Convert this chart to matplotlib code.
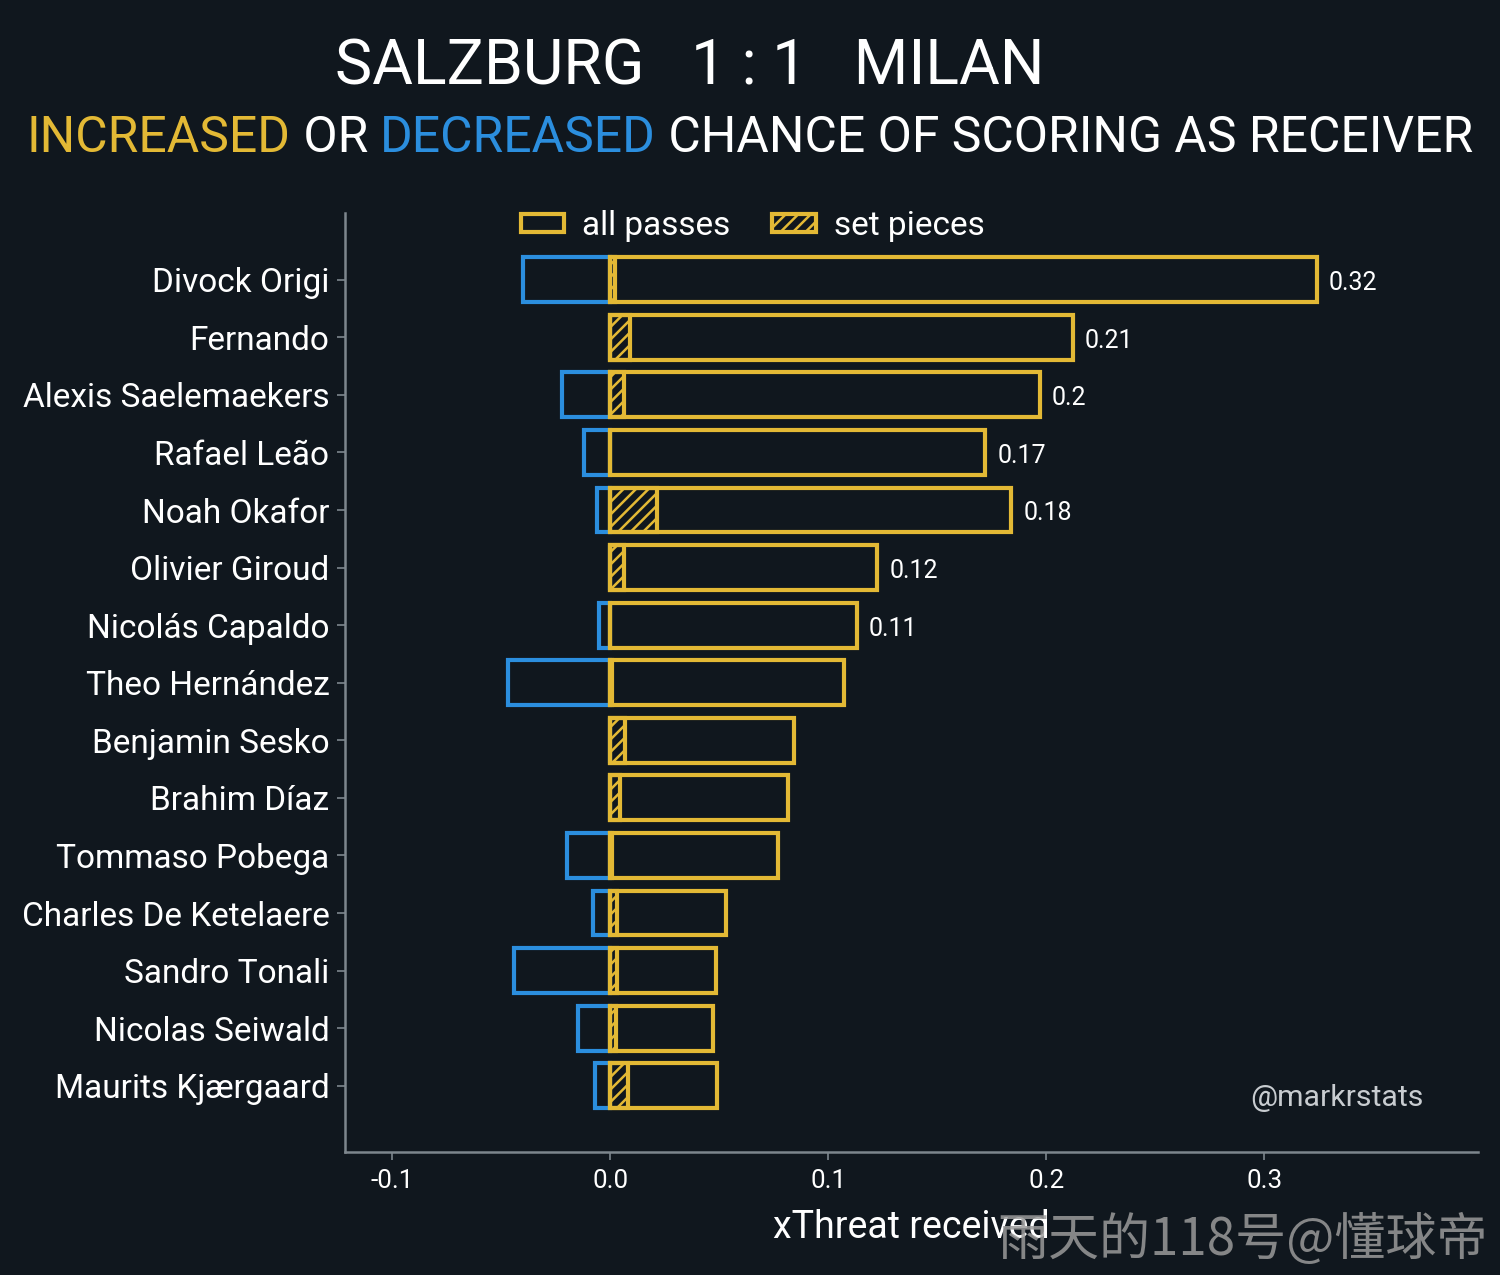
import matplotlib
matplotlib.use("Agg")
import matplotlib.pyplot as plt
from matplotlib.patches import Patch

BG = "#10171e"
YELLOW = "#e3b935"
BLUE = "#2b8ede"
SPINE = "#7d868d"

plt.rcParams["font.family"] = ["Roboto", "DejaVu Sans"]
plt.rcParams["hatch.linewidth"] = 1.2

players = ["Divock Origi", "Fernando", "Alexis Saelemaekers", "Rafael Leão", "Noah Okafor",
           "Olivier Giroud", "Nicolás Capaldo", "Theo Hernández", "Benjamin Sesko", "Brahim Díaz",
           "Tommaso Pobega", "Charles De Ketelaere", "Sandro Tonali", "Nicolas Seiwald",
           "Maurits Kjærgaard"]
all_passes = [0.324, 0.212, 0.197, 0.172, 0.184, 0.1225, 0.113, 0.107, 0.0845, 0.0815,
              0.077, 0.053, 0.0486, 0.0472, 0.049]
decreased = [-0.040, 0.0, -0.022, -0.012, -0.006, 0.0, -0.005, -0.047, 0.0, 0.0,
             -0.020, -0.0078, -0.044, -0.0147, -0.0069]
set_pieces = [0.002, 0.0092, 0.0064, 0.0, 0.0216, 0.0064, 0.0, 0.001, 0.0069, 0.0046,
              0.001, 0.003, 0.003, 0.0025, 0.0083]
value_labels = ["0.32", "0.21", "0.2", "0.17", "0.18", "0.12", "0.11"]

fig = plt.figure(figsize=(10, 8.5), dpi=150, facecolor=BG)
ax = fig.add_axes([0.23, 0.0965, 0.755, 0.7365], facecolor=BG)

y = list(range(len(players)))
h = 0.78
ax.barh(y, decreased, height=h, facecolor="none", edgecolor=BLUE, linewidth=2)
ax.barh(y, all_passes, height=h, facecolor="none", edgecolor=YELLOW, linewidth=2)
ax.barh(y, set_pieces, height=h, facecolor="none", edgecolor=YELLOW, linewidth=2, hatch="////")

for i, lab in enumerate(value_labels):
    ax.text(all_passes[i] + 0.0055, y[i] + 0.06, lab, color="white", fontsize=12, va="center", ha="left")

ax.set_xlim(-0.1216, 0.3977)
ax.set_ylim(len(players) - 1 + 1.15, -1.16)
ax.set_yticks(y)
ax.set_yticklabels(players, fontsize=16, color="white")
ax.set_xticks([-0.1, 0.0, 0.1, 0.2, 0.3])
ax.set_xticklabels(["-0.1", "0.0", "0.1", "0.2", "0.3"], fontsize=12.5, color="white")
ax.tick_params(axis="both", colors=SPINE, length=4, labelcolor="white")
ax.tick_params(axis="x", pad=4)
for s in ["top", "right"]:
    ax.spines[s].set_visible(False)
for s in ["left", "bottom"]:
    ax.spines[s].set_color(SPINE)
    ax.spines[s].set_linewidth(1.2)
ax.set_xlabel("xThreat received", color="white", fontsize=18, labelpad=8)

handles = [Patch(facecolor="none", edgecolor=YELLOW, linewidth=2, label="all passes"),
           Patch(facecolor="none", edgecolor=YELLOW, linewidth=2, hatch="////", label="set pieces")]
leg = ax.legend(handles=handles, loc="upper center", bbox_to_anchor=(0.36, 1.035), ncol=2, frameon=False,
                fontsize=16, handlelength=1.3, handleheight=0.45, columnspacing=1.25, handletextpad=0.55)
for t in leg.get_texts():
    t.set_color("white")

ax.text(0.952, 0.057, "@markrstats", transform=ax.transAxes, color="#c8ccd0", fontsize=14.5,
        ha="right", va="center")

fig.text(0.46, 0.947, "SALZBURG   1 : 1   MILAN", color="white", fontsize=30, ha="center", va="center")

# subtitle with coloured words, sized to span the figure like the reference
parts = [("INCREASED", YELLOW), (" OR ", "white"), ("DECREASED", BLUE),
         (" CHANCE OF SCORING AS RECEIVER", "white")]
fig.canvas.draw()
r = fig.canvas.get_renderer()
base = 25.5
total = 0
for txt, col in parts:
    t = fig.text(0, 0, txt, fontsize=base)
    total += t.get_window_extent(r).width
    t.remove()
fs = base * 1448 / total
widths = []
for txt, col in parts:
    t = fig.text(0, 0, txt, fontsize=fs)
    widths.append(t.get_window_extent(r).width)
    t.remove()
x0 = (fig.bbox.width - sum(widths)) / 2
for (txt, col), w in zip(parts, widths):
    fig.text(x0 / fig.bbox.width, 0.8915, txt, color=col, fontsize=fs, ha="left", va="center")
    x0 += w

fig.text(0.992, 0.027, "雨天的118号@懂球帝", color="#9a9a9a", alpha=0.85, fontsize=24.5,
         ha="right", va="center", family=["Noto Sans CJK SC", "DejaVu Sans"])

fig.savefig("out.png", dpi=150, facecolor=BG)
